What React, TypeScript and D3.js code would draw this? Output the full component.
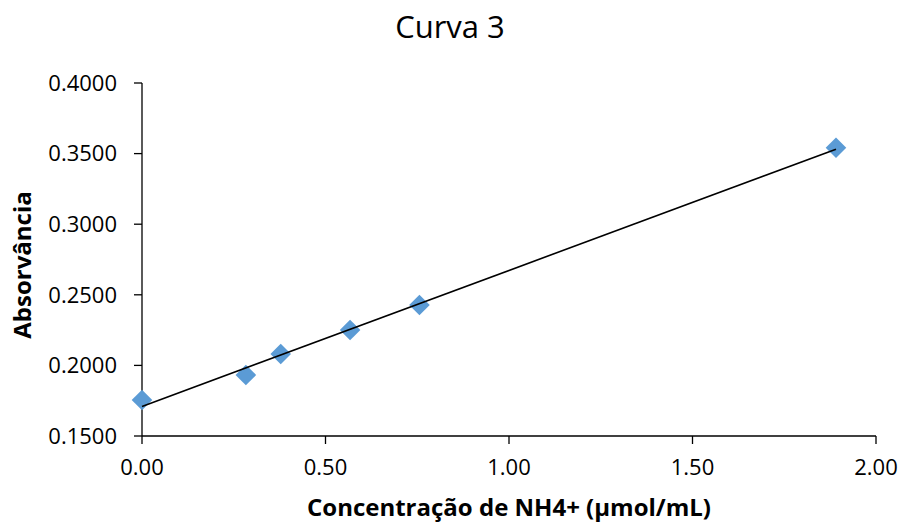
import React from "react";
import * as d3 from "d3";

const concentrations = [0, 0.283, 0.378, 0.567, 0.756, 1.891];
const absorbances = [0.1755, 0.1932, 0.2081, 0.2251, 0.2428, 0.3542];
const xTicks = [0, 0.5, 1.0, 1.5, 2.0];
const yTicks = [0.15, 0.2, 0.25, 0.3, 0.35, 0.4];
const title = "Curva 3";
const xTitle = "Concentração de NH4+ (µmol/mL)";
const yTitle = "Absorvância";

const W = 905;
const H = 522;
const M = { left: 142, right: 905 - 876, top: 83, bottom: 522 - 436 };
const FONT = "'Open Sans', sans-serif";

export default function App() {
  const x = d3.scaleLinear().domain([0, 2]).range([M.left, W - M.right]);
  const y = d3.scaleLinear().domain([0.15, 0.4]).range([H - M.bottom, M.top]);

  const n = concentrations.length;
  const mx = d3.mean(concentrations)!;
  const my = d3.mean(absorbances)!;
  let sxy = 0, sxx = 0;
  for (let i = 0; i < n; i++) {
    sxy += (concentrations[i] - mx) * (absorbances[i] - my);
    sxx += (concentrations[i] - mx) ** 2;
  }
  const slope = sxy / sxx;
  const intercept = my - slope * mx;
  const x0 = d3.min(concentrations)!;
  const x1 = d3.max(concentrations)!;
  const line = d3.line<number>().x((d) => x(d)).y((d) => y(intercept + slope * d));
  const diamond = d3.symbol().type(d3.symbolDiamond2).size(270)();

  return (
    <svg width={W} height={H} style={{ position: "absolute", left: 0, top: 0, background: "#fff" }}>
      <rect width={W} height={H} fill="#fff" />
      <text x={450} y={38} textAnchor="middle" fontFamily={FONT} fontSize={31} fill="#000">
        {title}
      </text>
      {/* y axis */}
      <line x1={M.left} x2={M.left} y1={y(0.4)} y2={y(0.15)} stroke="#000" strokeWidth={1.3} />
      {yTicks.map((t) => (
        <g key={t}>
          <line x1={M.left - 8} x2={M.left} y1={y(t)} y2={y(t)} stroke="#000" strokeWidth={1.3} />
          <text x={M.left - 25} y={y(t)} dy="0.35em" textAnchor="end" fontFamily={FONT} fontSize={22} fill="#000">
            {t.toFixed(4)}
          </text>
        </g>
      ))}
      {/* x axis */}
      <line x1={x(0)} x2={x(2)} y1={y(0.15)} y2={y(0.15)} stroke="#000" strokeWidth={1.3} />
      {xTicks.map((t) => (
        <g key={t}>
          <line x1={x(t)} x2={x(t)} y1={y(0.15)} y2={y(0.15) + 8} stroke="#000" strokeWidth={1.3} />
          <text x={x(t)} y={475} textAnchor="middle" fontFamily={FONT} fontSize={22} fill="#000">
            {t.toFixed(2)}
          </text>
        </g>
      ))}
      <text x={509} y={516} textAnchor="middle" fontFamily={FONT} fontWeight="bold" fontSize={24} fill="#000">
        {xTitle}
      </text>
      <text
        transform={`translate(31,${265}) rotate(-90)`}
        textAnchor="middle"
        fontFamily={FONT}
        fontWeight="bold"
        fontSize={24}
        fill="#000"
      >
        {yTitle}
      </text>
      {concentrations.map((c, i) => (
        <path key={i} d={diamond!} transform={`translate(${x(c)},${y(absorbances[i])})`} fill="#5B9BD5" />
      ))}
      <path d={line([x0, x1])!} stroke="#000" strokeWidth={1.6} fill="none" />
    </svg>
  );
}
